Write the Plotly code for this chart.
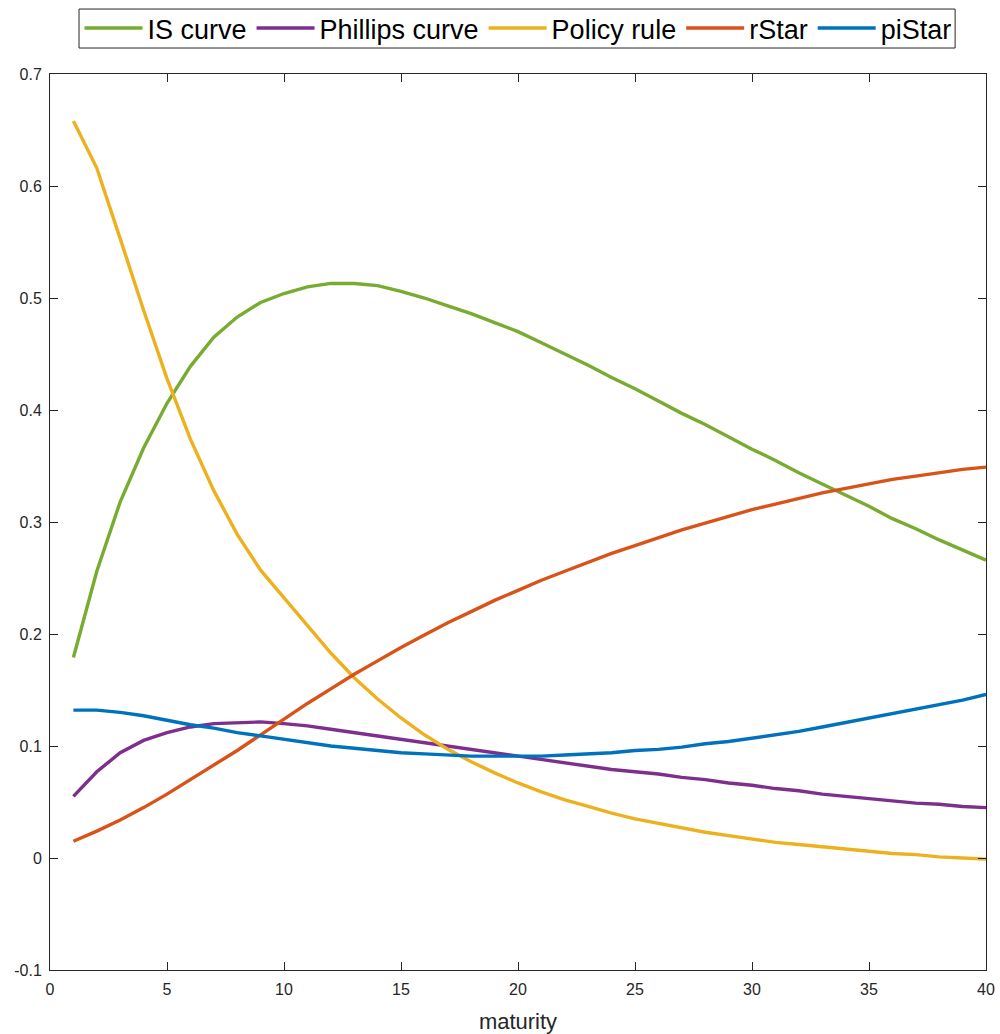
import plotly.graph_objects as go

maturity = list(range(1, 41))

is_curve = [0.179, 0.256, 0.318, 0.366, 0.406, 0.439, 0.465, 0.483, 0.496, 0.504,
            0.510, 0.513, 0.513, 0.511, 0.506, 0.500, 0.493, 0.486, 0.478, 0.470,
            0.460, 0.450, 0.440, 0.429, 0.419, 0.408, 0.397, 0.387, 0.376, 0.365,
            0.355, 0.344, 0.334, 0.324, 0.314, 0.303, 0.294, 0.284, 0.275, 0.266]

phillips_curve = [0.055, 0.077, 0.094, 0.105, 0.112, 0.117, 0.120, 0.121, 0.1215, 0.120,
                  0.118, 0.115, 0.112, 0.109, 0.106, 0.103, 0.100, 0.097, 0.094, 0.091,
                  0.088, 0.085, 0.082, 0.079, 0.077, 0.075, 0.072, 0.070, 0.067, 0.065,
                  0.062, 0.060, 0.057, 0.055, 0.053, 0.051, 0.049, 0.048, 0.046, 0.045]

policy_rule = [0.658, 0.616, 0.553, 0.489, 0.428, 0.374, 0.328, 0.289, 0.257, 0.232,
               0.207, 0.183, 0.161, 0.142, 0.125, 0.110, 0.097, 0.086, 0.076, 0.067,
               0.059, 0.052, 0.046, 0.040, 0.035, 0.031, 0.027, 0.023, 0.020, 0.017,
               0.014, 0.012, 0.010, 0.008, 0.006, 0.004, 0.003, 0.001, 0.000, -0.001]

r_star = [0.015, 0.024, 0.034, 0.045, 0.057, 0.070, 0.083, 0.096, 0.110, 0.124,
          0.138, 0.151, 0.164, 0.176, 0.188, 0.199, 0.210, 0.220, 0.230, 0.239,
          0.248, 0.256, 0.264, 0.272, 0.279, 0.286, 0.293, 0.299, 0.305, 0.311,
          0.316, 0.321, 0.326, 0.330, 0.334, 0.338, 0.341, 0.344, 0.347, 0.349]

pi_star = [0.132, 0.132, 0.130, 0.127, 0.123, 0.119, 0.116, 0.112, 0.109, 0.106,
           0.103, 0.100, 0.098, 0.096, 0.094, 0.093, 0.092, 0.091, 0.091, 0.091,
           0.091, 0.092, 0.093, 0.094, 0.096, 0.097, 0.099, 0.102, 0.104, 0.107,
           0.110, 0.113, 0.117, 0.121, 0.125, 0.129, 0.133, 0.137, 0.141, 0.146]

series_names = ["IS curve", "Phillips curve", "Policy rule", "rStar", "piStar"]
series_colors = ["#77AC30", "#7E2F8E", "#EDB120", "#D95319", "#0072BD"]
series_values = [is_curve, phillips_curve, policy_rule, r_star, pi_star]

x_tickvals = [0, 5, 10, 15, 20, 25, 30, 35, 40]
y_tickvals = [-0.1, 0, 0.1, 0.2, 0.3, 0.4, 0.5, 0.6, 0.7]
y_ticktext = ["-0.1", "0", "0.1", "0.2", "0.3", "0.4", "0.5", "0.6", "0.7"]

FONT = "Liberation Sans, Arial, Helvetica, sans-serif"
AX = "#262626"

fig = go.Figure()
for name, color, vals in zip(series_names, series_colors, series_values):
    fig.add_trace(go.Scatter(x=maturity, y=vals, mode="lines", name=name,
                             line=dict(color=color, width=3.4)))

axis_common = dict(showline=True, linecolor=AX, linewidth=1, mirror="ticks",
                   ticks="inside", ticklen=8, tickcolor=AX, showgrid=False,
                   zeroline=False, automargin=False,
                   tickfont=dict(family=FONT, size=16, color=AX))

fig.update_xaxes(range=[0, 40], tickvals=x_tickvals, ticklabelstandoff=5,
                 title=dict(text="maturity", font=dict(family=FONT, size=22, color=AX), standoff=22),
                 **axis_common)
fig.update_yaxes(range=[-0.1, 0.7], tickvals=y_tickvals, ticktext=y_ticktext,
                 ticklabelstandoff=4, **axis_common)

# legend frame (drawn as a paper-referenced rectangle)
fig.add_shape(type="rect", xref="paper", yref="paper",
              x0=0.031, x1=0.967, y0=1.029, y1=1.0725,
              line=dict(color=AX, width=1), fillcolor="white", layer="below")

fig.update_layout(
    width=1000, height=1034,
    margin=dict(l=50, r=14, t=74, b=64, autoexpand=False),
    plot_bgcolor="white", paper_bgcolor="white",
    font=dict(family=FONT, color=AX),
    legend=dict(orientation="h", x=0.5, xanchor="center", y=1.0508, yanchor="middle",
                borderwidth=0, bgcolor="rgba(0,0,0,0)",
                font=dict(family=FONT, size=27, color="black"),
                itemwidth=58, tracegroupgap=0),
    showlegend=True,
)

fig.write_html("out.html")
